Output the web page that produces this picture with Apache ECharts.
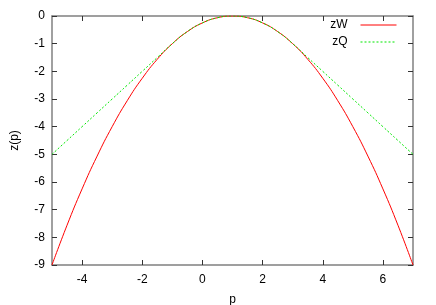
<!DOCTYPE html>
<html><head><meta charset="utf-8">
<script src="https://cdn.jsdelivr.net/npm/echarts@6/dist/echarts.min.js"></script>
<style>html,body{margin:0;padding:0;background:#fff}#c{width:436px;height:305px}</style>
</head><body><div id="c"></div>
<script>
const pValues = [-5,-4.5,-4,-3.5,-3,-2.5,-2,-1.5,-1,-0.5,0,0.5,1,1.5,2,2.5,3,3.5,4,4.5,5,5.5,6,6.5,7];
const zW = [-9,-7.5625,-6.25,-5.0625,-4,-3.0625,-2.25,-1.5625,-1,-0.5625,-0.25,-0.0625,0,-0.0625,-0.25,-0.5625,-1,-1.5625,-2.25,-3.0625,-4,-5.0625,-6.25,-7.5625,-9];
const zQ = [-5,-4.5,-4,-3.5,-3,-2.5,-2,-1.5,-1,-0.5625,-0.25,-0.0625,0,-0.0625,-0.25,-0.5625,-1,-1.5,-2,-2.5,-3,-3.5,-4,-4.5,-5];
const xTicks = [-4,-2,0,2,4,6];

const font = 'Liberation Sans, Arial, sans-serif';
const axisLine = {show:true, onZero:false, lineStyle:{color:'#808080', width:1.5}};
const tick = {show:true, inside:true, length:5, lineStyle:{color:'#333', width:1}};
const chart = echarts.init(document.getElementById('c'), null, {renderer:'canvas'});
chart.setOption({
  animation:false,
  grid:{left:52, right:23, top:16, bottom:40, containLabel:false, outerBoundsMode:'none'},
  legend:{
    orient:'vertical', right:39, top:19, align:'right', itemGap:5, padding:0,
    itemWidth:36, itemHeight:10,
    itemStyle:{opacity:0},
    lineStyle:{width:1},
    textStyle:{fontFamily:font, fontSize:12, color:'#000', padding:[0,8,0,0]},
    data:['zW','zQ']
  },
  xAxis:[{
    type:'value', min:-5, max:7, position:'bottom',
    axisLine, axisTick:Object.assign({customValues:xTicks}, tick),
    axisLabel:{customValues:xTicks, color:'#000', fontFamily:font, fontSize:12, margin:9},
    splitLine:{show:false},
    name:'p', nameLocation:'middle', nameGap:29,
    nameTextStyle:{color:'#000', fontFamily:font, fontSize:12}
  },{
    type:'value', min:-5, max:7, position:'top',
    axisLine, axisTick:Object.assign({customValues:xTicks}, tick),
    axisLabel:{show:false}, splitLine:{show:false}
  }],
  yAxis:[{
    type:'value', min:-9, max:0, interval:1, position:'left',
    axisLine, axisTick:tick,
    axisLabel:{color:'#000', fontFamily:font, fontSize:12, margin:7},
    splitLine:{show:false},
    name:'z(p)', nameLocation:'middle', nameGap:31, nameRotate:90,
    nameTextStyle:{color:'#000', fontFamily:font, fontSize:12}
  },{
    type:'value', min:-9, max:0, interval:1, position:'right',
    axisLine, axisTick:tick,
    axisLabel:{show:false}, splitLine:{show:false}
  }],
  series:[{
    name:'zW', type:'line', smooth:true, symbol:'none',
    data:pValues.map((p,i)=>[p,zW[i]]),
    lineStyle:{color:'#ff0000', width:1}, itemStyle:{color:'#ff0000'}
  },{
    name:'zQ', type:'line', smooth:true, symbol:'none',
    data:pValues.map((p,i)=>[p,zQ[i]]),
    lineStyle:{color:'#00e800', width:1, type:[2,2]}, itemStyle:{color:'#00e800'}
  }]
});
</script></body></html>
